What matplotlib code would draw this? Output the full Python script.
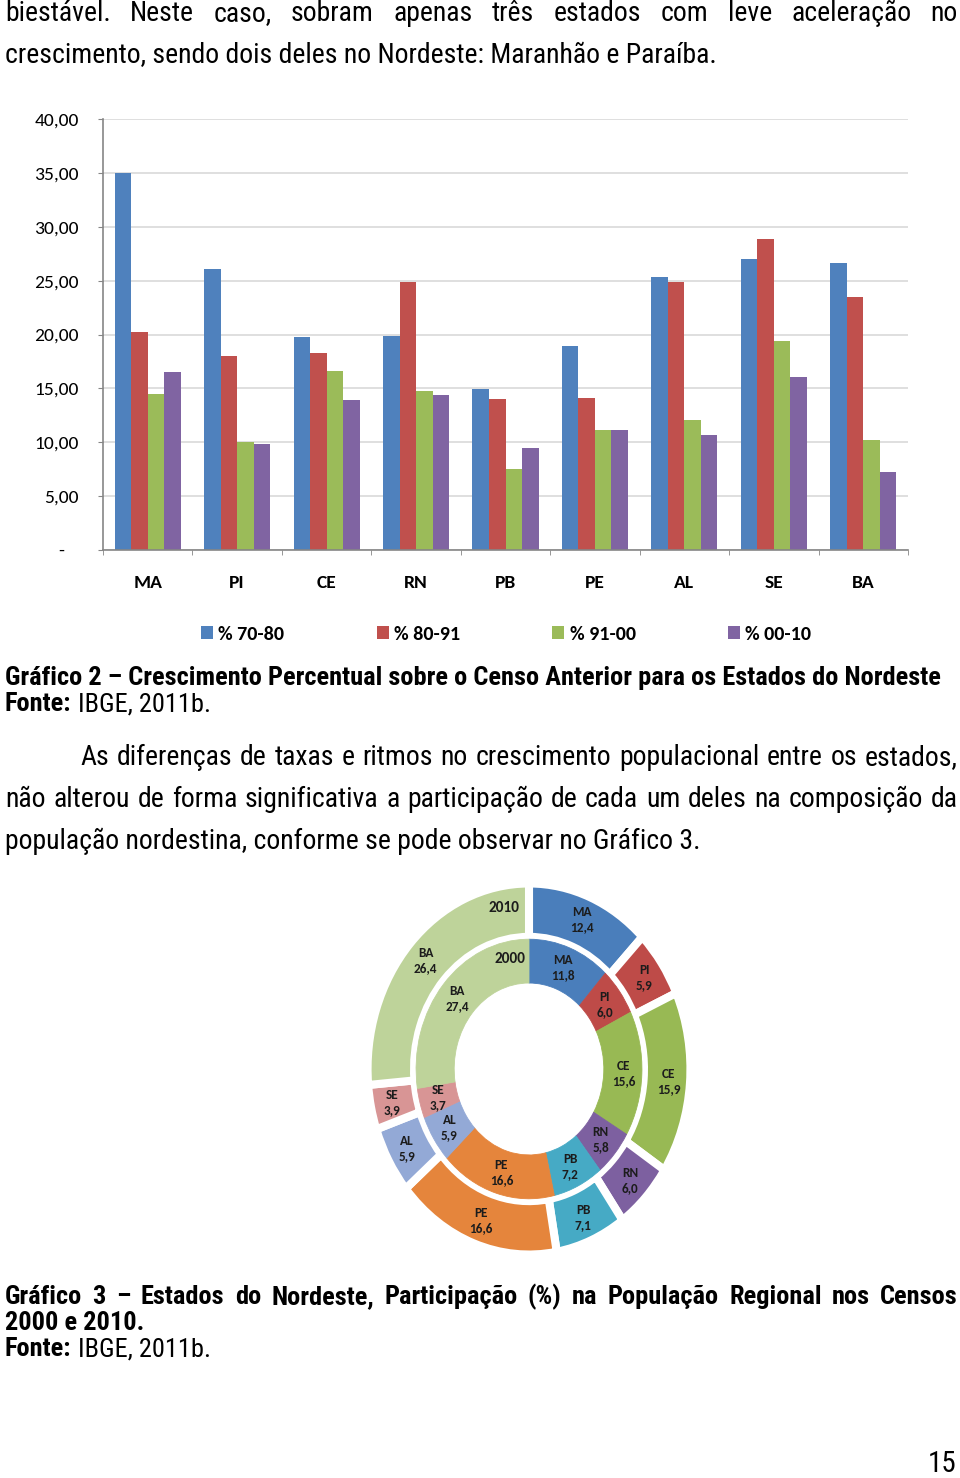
import matplotlib
matplotlib.use('Agg')
import matplotlib.pyplot as plt
import numpy as np
from matplotlib import font_manager
from matplotlib.patches import Patch

W, H = 960, 1478

# --- data -------------------------------------------------------------
states = ['MA', 'PI', 'CE', 'RN', 'PB', 'PE', 'AL', 'SE', 'BA']
series_labels = ['% 70-80', '% 80-91', '% 91-00', '% 00-10']
g70_80 = [35.0, 26.1, 19.8, 19.9, 14.9, 18.9, 25.3, 27.0, 26.6]
g80_91 = [20.2, 18.0, 18.3, 24.9, 14.0, 14.1, 24.9, 28.9, 23.5]
g91_00 = [14.5, 10.0, 16.6, 14.8, 7.5, 11.1, 12.1, 19.4, 10.2]
g00_10 = [16.5, 9.8, 13.9, 14.4, 9.5, 11.1, 10.7, 16.1, 7.2]
yticks = [0, 5, 10, 15, 20, 25, 30, 35, 40]
ytick_labels = ['-   ', '5,00', '10,00', '15,00', '20,00', '25,00', '30,00', '35,00', '40,00']

share_2000 = [11.8, 6.0, 15.6, 5.8, 7.2, 16.6, 5.9, 3.7, 27.4]
share_2010 = [12.4, 5.9, 15.9, 6.0, 7.1, 16.6, 5.9, 3.9, 26.4]

bar_colors = ['#4f81bd', '#c0504d', '#9bbb59', '#8064a2']
pie_colors = ['#4a7ebb', '#be4b48', '#98b954', '#7d60a0', '#46aac5',
              '#e5853c', '#93a9d6', '#d89595', '#bed39a']


def pick(*names):
    have = {f.name for f in font_manager.fontManager.ttflist}
    for n in names:
        if n in have:
            return n
    return 'DejaVu Sans'


BODY = pick('Liberation Sans Narrow', 'Arial Narrow', 'Roboto Condensed',
            'Open Sans Condensed', 'Liberation Sans')
CHART = pick('Carlito', 'Calibri', 'Lato', 'Open Sans')

fig = plt.figure(figsize=(W / 100, H / 100), dpi=100)
renderer = fig.canvas.get_renderer()


def px(x, y):
    return x / W, 1 - y / H


def text_width(s, size, weight='normal', family=BODY):
    t = fig.text(0, 0, s, fontsize=size, fontweight=weight, family=family)
    w = t.get_window_extent(renderer).width
    t.remove()
    return w


def fit_size(s, width, weight='normal'):
    return 10 * width / text_width(s, 10, weight)


def justified(line, x0, x1, base, size, weight='normal'):
    words = line.split()
    widths = [text_width(wd, size, weight) for wd in words]
    gap = (x1 - x0 - sum(widths)) / (len(words) - 1)
    x = x0
    for wd, wid in zip(words, widths):
        fig.text(*px(x, base), wd, fontsize=size, fontweight=weight,
                 family=BODY, va='baseline')
        x += wid + gap


def plain(parts, x0, base, size):
    space = text_width('a a', size) - text_width('aa', size)
    x = x0
    for s, weight in parts:
        fig.text(*px(x, base), s, fontsize=size, fontweight=weight,
                 family=BODY, va='baseline')
        x += text_width(s, size, weight) + space


body = fit_size('crescimento, sendo dois deles no Nordeste: Maranhão e Paraíba.', 707)
cap = fit_size('Gráfico 2 – Crescimento Percentual sobre o Censo Anterior para os Estados do Nordeste',
               935, 'bold')

# --- running text -----------------------------------------------------
justified('biestável. Neste caso, sobram apenas três estados com leve aceleração no',
          5, 958, 21, body)
plain([('crescimento, sendo dois deles no Nordeste: Maranhão e Paraíba.', 'normal')], 5, 63, body)

plain([('Gráfico 2 – Crescimento Percentual sobre o Censo Anterior para os Estados do Nordeste', 'bold')],
      5, 685, cap)
plain([('Fonte:', 'bold'), ('IBGE, 2011b.', 'normal')], 5, 711, cap)

justified('As diferenças de taxas e ritmos no crescimento populacional entre os estados,',
          80, 958, 765, body)
justified('não alterou de forma significativa a participação de cada um deles na composição da',
          5, 958, 807, body)
plain([('população nordestina, conforme se pode observar no Gráfico 3.', 'normal')], 5, 849, body)

justified('Gráfico 3 – Estados do Nordeste, Participação (%) na População Regional nos Censos',
          5, 958, 1304, cap, 'bold')
plain([('2000 e 2010.', 'bold')], 5, 1330, cap)
plain([('Fonte:', 'bold'), ('IBGE, 2011b.', 'normal')], 5, 1356, cap)

fig.text(*px(957, 1472), '15', fontsize=body * 1.05, family=BODY, ha='right', va='baseline')

# --- Gráfico 2: bars --------------------------------------------------
ax = fig.add_axes([103 / W, 1 - 550 / H, 805 / W, 431 / H])
x = np.arange(len(states))
bw = 0.185
for i, vals in enumerate([g70_80, g80_91, g91_00, g00_10]):
    ax.bar(x + (i - 1.5) * bw, vals, bw, color=bar_colors[i], linewidth=0)
ax.set_xlim(-0.5, len(states) - 0.5)
ax.set_ylim(0, 40)
ax.set_axisbelow(True)
ax.yaxis.grid(True, color='#d9d9d9', linewidth=1.2)
for s in ['top', 'right']:
    ax.spines[s].set_visible(False)
for s in ['left', 'bottom']:
    ax.spines[s].set_color('#868686')
    ax.spines[s].set_linewidth(1.2)
ax.set_yticks(yticks, ytick_labels)
ax.tick_params(axis='y', length=3.6, color='#868686', pad=14, labelsize=14)
ax.set_xticks(x, states)
ax.set_xticks(np.arange(-0.5, len(states), 1), minor=True)
ax.tick_params(axis='x', which='major', length=0, pad=18, labelsize=14)
ax.tick_params(axis='x', which='minor', length=3.6, color='#868686')
for lab in ax.get_xticklabels():
    lab.set_fontweight('bold')
for lab in ax.get_xticklabels() + ax.get_yticklabels():
    lab.set_family(CHART)

handles = [Patch(facecolor=c) for c in bar_colors]
fig.legend(handles, series_labels, loc='center', bbox_to_anchor=px(506, 634), ncol=4,
           frameon=False, prop=dict(family=CHART, weight='bold', size=14.5),
           handlelength=0.6, handleheight=0.6, handletextpad=0.25, columnspacing=4.6)

# --- Gráfico 3: donut -------------------------------------------------
cx, cy = 529, 1069
ax2 = fig.add_axes([(cx - 170) / W, 1 - (cy + 190) / H, 340 / W, 380 / H])
w_out, _ = ax2.pie(share_2010, radius=1.025, startangle=90, counterclock=False,
                   colors=pie_colors,
                   wedgeprops=dict(width=0.295, edgecolor='white', linewidth=5.8))
w_in, _ = ax2.pie(share_2000, radius=0.717, startangle=90, counterclock=False,
                  colors=pie_colors, wedgeprops=dict(width=0.242, linewidth=0.6))
for wd in w_in:
    wd.set_edgecolor(wd.get_facecolor())


def ring_labels(vals, r):
    cum = np.cumsum([0] + vals)
    tot = cum[-1]
    for i, v in enumerate(vals):
        ang = np.deg2rad(90 - 360 * (cum[i] + v / 2) / tot)
        ax2.text(r * np.cos(ang), r * np.sin(ang),
                 f'{states[i]}\n{v:.1f}'.replace('.', ','),
                 ha='center', va='center', fontsize=9.5, fontweight='bold',
                 family=CHART, color='#1c1c1c', linespacing=1.3)


ring_labels(share_2010, 0.89)
ring_labels(share_2000, 0.60)
ax2.text(-0.06, 0.89, '2010', ha='right', va='center', fontsize=11,
         fontweight='bold', family=CHART, color='#1c1c1c')
ax2.text(-0.02, 0.61, '2000', ha='right', va='center', fontsize=11,
         fontweight='bold', family=CHART, color='#1c1c1c')
ax2.set_aspect('auto')
ax2.set_xlim(-170 / 157.5, 170 / 157.5)
ax2.set_ylim(-190 / 181, 190 / 181)
ax2.axis('off')

fig.savefig('out.png', dpi=100)
